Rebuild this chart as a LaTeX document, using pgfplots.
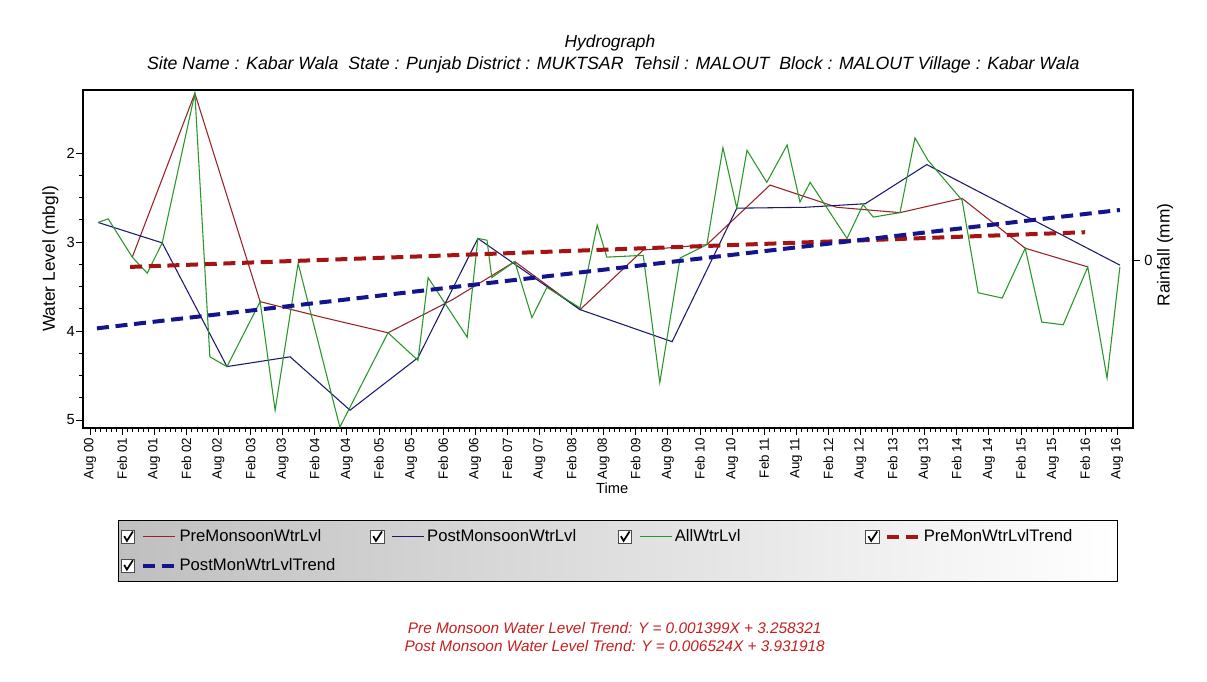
\documentclass[border=0pt]{standalone}
\usepackage{fontspec}
\setmainfont{Liberation Sans}
\usepackage{pgfplots}
\pgfplotsset{compat=1.18}
\definecolor{premon}{RGB}{150,35,40}
\definecolor{postmon}{RGB}{25,25,110}
\definecolor{allwl}{RGB}{40,150,40}
\definecolor{pretrend}{RGB}{165,20,20}
\definecolor{posttrend}{RGB}{20,20,140}
\definecolor{foot}{RGB}{200,30,30}
\begin{document}
\begin{tikzpicture}[x=1pt,y=1pt]
\useasboundingbox[fill=white] (0,0) rectangle (905.25,511.5);
\begin{axis}[
  at={(62.25pt,190.5pt)}, anchor=south west,
  width=787.5pt, height=253.5pt, scale only axis,
  xmin=-1.31, xmax=194.95,
  ymin=1.292, ymax=5.09, y dir=reverse,
  axis line style={black, line width=1.1pt},
  tick pos=left, tick align=outside,
  major tick length=5pt, minor tick length=3pt,
  every tick/.style={black, line width=0.6pt},
  xtick={0,6,...,192},
  xticklabels={Aug 00, Feb 01, Aug 01, Feb 02, Aug 02, Feb 03, Aug 03, Feb 04, Aug 04, Feb 05, Aug 05, Feb 06, Aug 06, Feb 07, Aug 07, Feb 08, Aug 08, Feb 09, Aug 09, Feb 10, Aug 10, Feb 11, Aug 11, Feb 12, Aug 12, Feb 13, Aug 13, Feb 14, Aug 14, Feb 15, Aug 15, Feb 16, Aug 16},
  minor x tick num=5,
  x tick label style={rotate=90, anchor=east, font=\fontsize{10}{12}\selectfont, inner sep=2pt},
  ytick={2,3,4,5}, minor y tick num=3,
  y tick label style={font=\fontsize{11}{12}\selectfont, inner sep=1pt},
  /pgf/number format/assume math mode=true,
  xlabel={Time},
  every axis x label/.style={at={(axis description cs:0.504,-0.178)}, anchor=center, font=\fontsize{11}{13}\selectfont},
  ylabel={Water Level (mbgl)},
  every axis y label/.style={at={(axis description cs:-0.031,0.5)}, rotate=90, anchor=center, font=\fontsize{13}{15}\selectfont},
  legend columns=4,
  legend cell align=left,
  legend style={at={(axis description cs:0.0333,-0.272)}, anchor=north west,
    draw=black, line width=0.8pt, left color=black!25, right color=white,
    font=\fontsize{12.5}{14}\selectfont, inner xsep=2pt, inner ysep=5pt,
    /tikz/every even column/.append style={column sep=0pt},
    row sep=7pt},
  legend image code/.code={
    \draw[black!70, fill=white, line width=0.6pt, solid] (0pt,-5pt) rectangle (10pt,5pt);
    \draw[black, line width=1.3pt, solid] (2pt,0.5pt) -- (4pt,-3pt) -- (8.5pt,4pt);
    \draw[#1] (16pt,0pt) -- (40pt,0pt);
  },
]
\addplot[premon, line width=0.8pt] coordinates {
(7.9,3.17) (19.6,1.33) (31.8,3.67) (43.7,3.85) (55.7,4.02) (67.7,3.65)
(79.4,3.22) (91.6,3.76) (103.4,3.09) (115.3,3.03) (127.1,2.36) (139.6,2.61)
(151.4,2.67) (163.0,2.51) (174.8,3.07) (186.5,3.28)};
\addlegendentry{\makebox[141pt][l]{PreMonsoonWtrLvl}}
\addplot[postmon, line width=0.8pt] coordinates {
(1.5,2.78) (13.5,3.01) (25.6,4.40) (37.4,4.29) (48.6,4.89) (61.3,4.30)
(72.5,2.96) (91.6,3.76) (108.8,4.12) (120.9,2.62) (133.6,2.61) (144.9,2.57)
(156.4,2.13) (192.5,3.26)};
\addlegendentry{\makebox[141pt][l]{PostMonsoonWtrLvl}}
\addplot[allwl, line width=0.8pt] coordinates {
(1.5,2.78) (3.4,2.74) (7.9,3.17) (10.7,3.35) (13.5,3.01) (19.6,1.33)
(22.4,4.29) (25.6,4.40) (31.8,3.67) (34.6,4.89) (38.9,3.24) (46.7,5.08)
(55.7,4.02) (61.3,4.33) (63.2,3.40) (70.5,4.07) (72.5,2.96) (74.2,2.98)
(75.1,3.40) (79.4,3.22) (82.6,3.85) (85.4,3.51) (91.6,3.74) (94.8,2.81)
(96.6,3.17) (103.4,3.15) (106.5,4.58) (110.3,3.18) (115.3,3.03) (118.3,1.94)
(120.9,2.62) (122.8,1.97) (126.5,2.33) (130.3,1.91) (132.7,2.55) (134.6,2.33)
(141.5,2.96) (144.5,2.58) (146.4,2.72) (151.4,2.67) (154.2,1.83) (156.6,2.08)
(163.0,2.53) (166.0,3.57) (170.5,3.63) (174.8,3.07) (177.9,3.90) (181.9,3.93)
(186.5,3.28) (190.1,4.53) (192.5,3.28)};
\addlegendentry{\makebox[141pt][l]{AllWtrLvl}}
\addplot[pretrend, line width=3pt, dash pattern=on 9pt off 5pt] coordinates {
(7.5,3.28) (186.0,2.89)};
\addlegendentry{\makebox[141pt][l]{PreMonWtrLvlTrend}}
\addplot[posttrend, line width=3pt, dash pattern=on 9pt off 5pt] coordinates {
(1.3,3.97) (192.5,2.64)};
\addlegendentry{\makebox[141pt][l]{PostMonWtrLvlTrend}}
\end{axis}
\begin{axis}[
  at={(62.25pt,190.5pt)}, anchor=south west,
  width=787.5pt, height=253.5pt, scale only axis,
  xmin=-1.31, xmax=194.95, ymin=-168, ymax=170,
  axis x line=none, axis y line*=right,
  axis line style={black, line width=1.1pt},
  tick align=outside, major tick length=5pt,
  every tick/.style={black, line width=0.6pt},
  ytick={0},
  y tick label style={font=\fontsize{11}{12}\selectfont},
  /pgf/number format/assume math mode=true,
  ylabel={Rainfall (mm)},
  every axis y label/.style={at={(axis description cs:1.0305,0.512)}, rotate=90, anchor=center, font=\fontsize{13}{15}\selectfont},
]
\addplot[draw=none] coordinates {(0,0)};
\end{axis}
\node[font=\fontsize{13}{15}\selectfont\itshape] at (457.5,479.25) {Hydrograph};
\node[font=\fontsize{13.3}{15}\selectfont\itshape] at (460,462.75) {Site Name : Kabar Wala\ \ State : Punjab District : MUKTSAR\ \ Tehsil : MALOUT\ \ Block : MALOUT Village : Kabar Wala};
\node[font=\fontsize{11.5}{13}\selectfont\itshape, text=foot] at (461,40.5) {Pre Monsoon Water Level Trend: Y = 0.001399X + 3.258321};
\node[font=\fontsize{11.5}{13}\selectfont\itshape, text=foot] at (461,27) {Post Monsoon Water Level Trend: Y = 0.006524X + 3.931918};
\end{tikzpicture}
\end{document}
